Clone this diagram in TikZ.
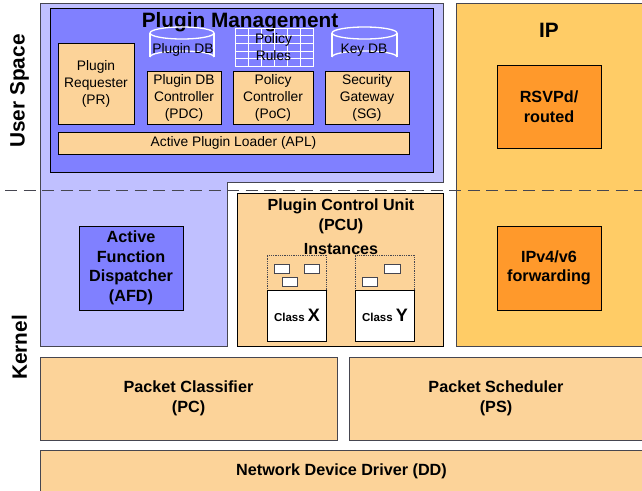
\documentclass[tikz,border=0pt]{standalone}
\usepackage{fontspec}
\setmainfont{Liberation Sans}
\definecolor{lavender}{RGB}{192,192,255}
\definecolor{pluginblue}{RGB}{128,128,255}
\definecolor{peach}{RGB}{252,211,153}
\definecolor{ipyellow}{RGB}{255,204,102}
\definecolor{iporange}{RGB}{255,153,43}
\definecolor{edgegrey}{RGB}{70,70,80}
\tikzset{
  box/.style={draw=black,line width=0.9pt,align=center,inner sep=0pt,font=\fontsize{13.8}{17}\selectfont},
  peachbox/.style={box,fill=peach},
  boldbox/.style={box,font=\fontsize{16.2}{19.5}\selectfont\bfseries},
  slot/.style={draw=edgegrey,fill=white,line width=0.7pt,minimum width=15.5pt,minimum height=9pt,inner sep=0pt},
  dbline/.style={draw=white,line width=1.3pt},
  title/.style={inner sep=0pt,align=center,font=\fontsize{16.1}{20}\selectfont\bfseries},
  bigtitle/.style={inner sep=0pt,font=\fontsize{20.8}{22}\selectfont\bfseries}
}
\begin{document}
\begin{tikzpicture}[x=1pt,y=1pt,yscale=-1,xscale=1]
	\useasboundingbox (0,0) rectangle (642,490);
	% user space and kernel areas
	\draw[fill=lavender,draw=edgegrey,line width=0.9pt] (40,3) -- (443,3) -- (443,182) -- (227.5,182) -- (227.5,346) -- (40,346) -- cycle;
	\draw[fill=ipyellow,draw=edgegrey,line width=0.9pt] (456,3) -- (643,3) -- (643,346) -- (456,346) -- cycle;
	\node[box,fill=pluginblue,minimum width=383pt,minimum height=164pt] (pm) at (241.5,90) {};
	\node[bigtitle] (pmtitle) at (240,22) {Plugin Management};
	\node[bigtitle,rotate=90] (us) at (19.5,91) {User Space};
	\node[bigtitle,rotate=90] (kn) at (19.5,347.5) {Kernel};

	% plugin management
	\node[peachbox,minimum width=76pt,minimum height=81pt] (pr) at (96,83.5) {Plugin\\Requester\\(PR)};
	\node[peachbox,minimum width=74pt,minimum height=53pt] (pdc) at (184,97.5) {Plugin DB\\Controller\\(PDC)};
	\node[peachbox,minimum width=80pt,minimum height=53pt] (poc) at (273,97.5) {Policy\\Controller\\(PoC)};
	\node[peachbox,minimum width=84pt,minimum height=53pt] (sg) at (367,97.5) {Security\\Gateway\\(SG)};
	\node[peachbox,minimum width=351pt,minimum height=22pt] (apl) at (233.5,143) {Active Plugin Loader (APL)};

	% data stores
	\foreach \xl/\xr in {150/214,332/397}{
		\draw[dbline] (\xl,33) -- (\xl,57);
		\draw[dbline] (\xr,33) -- (\xr,57);
		\draw[dbline] ({(\xl+\xr)/2},33) ellipse ({(\xr-\xl)/2} and 6);
		\draw[dbline] (\xl,57) arc[start angle=180,end angle=0,x radius={(\xr-\xl)/2},y radius=-6];
	}
	\draw[dbline,line width=1pt] (235,28) rectangle (313,66);
	\foreach \y in {35.5,43,51,58}{
		\draw[dbline,line width=1pt] (235,\y) -- (313,\y);
	}
	\foreach \x in {248,261,274,287,300}{
		\draw[dbline,line width=1pt] (\x,28) -- (\x,66);
	}
	\node[inner sep=0pt,font=\fontsize{13.8}{17}\selectfont] (plugindb) at (183,49.5) {Plugin DB};
	\node[inner sep=0pt,align=center,font=\fontsize{13.8}{17}\selectfont] (rules) at (273.5,47) {Policy\\Rules};
	\node[inner sep=0pt,font=\fontsize{13.8}{17}\selectfont] (keydb) at (364,50.5) {Key DB};

	% kernel side
	\node[boldbox,fill=pluginblue,minimum width=104pt,minimum height=84pt] (afd) at (131,268) {Active\\Function\\Dispatcher\\(AFD)};
	\node[box,fill=peach,minimum width=206pt,minimum height=153pt] (pcu) at (340,269.5) {};
	\node[title] (pcutitle) at (341,216) {Plugin Control Unit\\(PCU)};
	\node[title] (inst) at (341,249) {Instances};

	\node[draw=edgegrey,densely dotted,line width=0.8pt,minimum width=59.5pt,minimum height=35pt,inner sep=0pt] (xarea) at (297,272.5) {};
	\node[draw=edgegrey,densely dotted,line width=0.8pt,minimum width=59.5pt,minimum height=35pt,inner sep=0pt] (yarea) at (385,272.5) {};
	\node[box,fill=white,line width=0.8pt,minimum width=59.5pt,minimum height=51pt] (xclass) at (297,315.5) {\bfseries\fontsize{11.5}{12}\selectfont Class\ \fontsize{18}{12}\selectfont X};
	\node[box,fill=white,line width=0.8pt,minimum width=59.5pt,minimum height=51pt] (yclass) at (385,315.5) {\bfseries\fontsize{11.5}{12}\selectfont Class\ \fontsize{18}{12}\selectfont Y};
	\node[slot] (xa) at (282,268.5) {};
	\node[slot] (xb) at (312,268.5) {};
	\node[slot] (xc) at (290,281.5) {};
	\node[slot] (ya) at (392.5,268.5) {};
	\node[slot] (yb) at (370,281.5) {};

	% ip
	\node[bigtitle] (ip) at (549,30) {IP};
	\node[boldbox,fill=iporange,minimum width=104pt,minimum height=83pt] (rsvp) at (549,106.5) {RSVPd/\\routed};
	\node[boldbox,fill=iporange,minimum width=104pt,minimum height=84pt] (fwd) at (549,268) {IPv4/v6\\forwarding};

	% bottom layers
	\node[boldbox,fill=peach,draw=edgegrey,minimum width=297pt,minimum height=83pt] (pc) at (188.5,398.5) {Packet Classifier\\(PC)};
	\node[boldbox,fill=peach,draw=edgegrey,minimum width=294pt,minimum height=83pt] (ps) at (496,398.5) {Packet Scheduler\\(PS)};
	\node[boldbox,fill=peach,draw=edgegrey,minimum width=603pt,minimum height=42pt] (dd) at (341.5,471) {Network Device Driver (DD)};

	% user / kernel boundary
	\draw[edgegrey,line width=1pt,dash pattern=on 12pt off 6.5pt] (5,190) -- (642,190);
\end{tikzpicture}
\end{document}
